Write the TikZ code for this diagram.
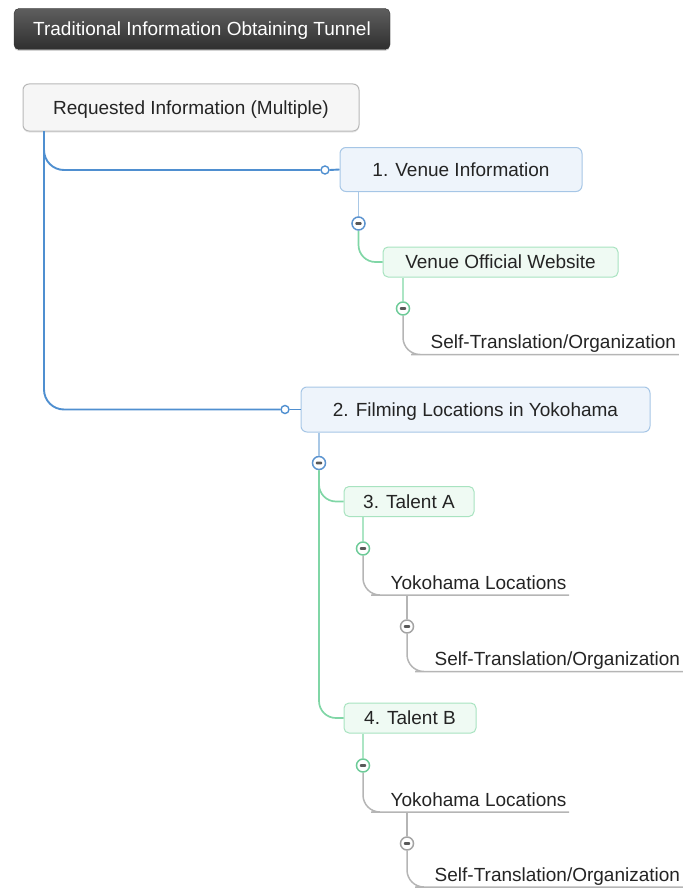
\documentclass[tikz,border=0pt]{standalone}
\usepackage{fontspec}
\setmainfont{Liberation Sans}
\usetikzlibrary{shadows}

\definecolor{txt}{HTML}{242424}
\definecolor{titletop}{HTML}{5E5E5E}
\definecolor{titlebot}{HTML}{2F2F2F}
\definecolor{rootfill}{HTML}{F6F6F6}
\definecolor{rootdraw}{HTML}{B8B8B8}
\definecolor{bluefill}{HTML}{EEF4FB}
\definecolor{bluedraw}{HTML}{A6C6E6}
\definecolor{bluetrunk}{HTML}{4F8FD0}
\definecolor{bluestem}{HTML}{A9C8E6}
\definecolor{bluering}{HTML}{5B93CF}
\definecolor{greenfill}{HTML}{EFFAF3}
\definecolor{greendraw}{HTML}{A8E3C0}
\definecolor{greenline}{HTML}{80D6A6}
\definecolor{greenstem}{HTML}{ACE5C4}
\definecolor{greenring}{HTML}{6DCB98}
\definecolor{grayline}{HTML}{B5B5B5}
\definecolor{grayring}{HTML}{A3A3A3}

\tikzset{
  lbl/.style={font=\fontsize{19}{22}\selectfont, text=txt},
  capcentred/.style={text height=13.6pt, text depth=0pt},
  titlebox/.style={capcentred, rounded corners=5pt, top color=titletop, bottom color=titlebot,
    draw=titlebot, text=white, font=\fontsize{19}{22}\selectfont,
    minimum width=376pt, minimum height=41pt,
    drop shadow={opacity=0.35, shadow xshift=0pt, shadow yshift=-1.5pt}},
  rootbox/.style={lbl, capcentred, rounded corners=6pt, fill=rootfill, draw=rootdraw, line width=1pt,
    minimum width=336pt, minimum height=47pt,
    drop shadow={opacity=0.18, shadow xshift=0pt, shadow yshift=-1.5pt}},
  bluebox/.style={lbl, capcentred, rounded corners=6pt, fill=bluefill, draw=bluedraw, line width=1pt},
  greenbox/.style={lbl, capcentred, rounded corners=5pt, fill=greenfill, draw=greendraw, line width=1pt,
    minimum height=30pt},
  leaf/.style={lbl, anchor=south west, inner xsep=2.5pt, inner ysep=0pt, text depth=5.5pt},
  trunk/.style={draw=bluetrunk, line width=1.9pt, rounded corners=20pt},
  bluestemline/.style={draw=bluestem, line width=1.5pt},
  greenconn/.style={draw=greenline, line width=1.7pt, rounded corners=17pt},
  greenstemline/.style={draw=greenstem, line width=1.5pt},
  grayconn/.style={draw=grayline, line width=1.5pt, rounded corners=17pt},
  endring/.style={circle, draw=bluetrunk, line width=1.4pt, fill=white,
    minimum size=8pt, inner sep=0pt},
  toggle/.style={circle, line width=1.5pt, fill=white, minimum size=13pt, inner sep=0pt,
    path picture={\fill[black!65, rounded corners=0.8pt]
      ([xshift=-3.2pt,yshift=-1.3pt]path picture bounding box.center) rectangle
      ([xshift=3.2pt,yshift=1.3pt]path picture bounding box.center);}},
  togblue/.style={toggle, draw=bluering},
  toggreen/.style={toggle, draw=greenring},
  toggray/.style={toggle, draw=grayring},
}

\begin{document}
\begin{tikzpicture}[x=1pt, y=-1pt]
\useasboundingbox (0,0) rectangle (683,888);

% title and central topic
\node[titlebox] (title) at (202,29) {Traditional Information Obtaining Tunnel};
\node[rootbox] (root) at (191,107.5) {Requested Information (Multiple)};

% main topics
\node[bluebox, minimum width=242pt, minimum height=44pt] (venue) at (461,169.5) {1. Venue Information};
\node[bluebox, minimum width=349pt, minimum height=45pt] (film) at (475.5,409.5) {2. Filming Locations in Yokohama};

% subtopics
\node[greenbox, minimum width=235pt] (site) at (500.5,262) {Venue Official Website};
\node[greenbox, minimum width=130pt] (talA) at (409,501.5) {3. Talent A};
\node[greenbox, minimum width=132pt] (talB) at (410,718) {4. Talent B};

% underlined leaf topics
\node[leaf] (self1) at (428,354.5) {Self-Translation/Organization};
\node[leaf] (yokoA) at (388,595) {Yokohama Locations};
\node[leaf] (self2) at (432,671.5) {Self-Translation/Organization};
\node[leaf] (yokoB) at (388,812) {Yokohama Locations};
\node[leaf] (self3) at (432,887) {Self-Translation/Organization};

% connector ends and collapse toggles
\node[endring] (e1) at (325,170) {};
\node[endring] (e2) at (285,409.5) {};
\node[togblue] (t1) at (358.5,223.5) {};
\node[togblue] (t2) at (319,463) {};
\node[toggreen] (t3) at (403,308.5) {};
\node[toggreen] (t4) at (363,548.5) {};
\node[toggreen] (t5) at (363,765.5) {};
\node[toggray] (t6) at (407,626.5) {};
\node[toggray] (t7) at (407,843.5) {};

\coordinate (rootout) at (44,131);

% central topic to main topics
\draw[trunk] (rootout) |- (e1.west);
\draw[trunk] (rootout) |- (e2.west);
\draw[draw=bluetrunk, line width=1.9pt] (e1.east) -- (venue.west);
\draw[draw=bluetrunk, line width=1.9pt] (e2.east) -- (film.west);

% 1. Venue Information branch
\draw[bluestemline] (venue.south -| t1) -- (t1.north);
\draw[greenconn] (t1.south) |- (site.west);
\draw[greenstemline] (site.south -| t3) -- (t3.north);
\draw[grayconn] (t3.south) |- (self1.south west) -- (self1.south east);

% 2. Filming Locations branch
\draw[bluestemline] (film.south -| t2) -- (t2.north);
\draw[greenconn] (t2.south) |- (talA.west);
\draw[greenconn] (t2.south) |- (talB.west);

% Talent A
\draw[greenstemline] (talA.south -| t4) -- (t4.north);
\draw[grayconn] (t4.south) |- (yokoA.south west) -- (yokoA.south east);
\draw[draw=grayline, line width=1.5pt] (yokoA.south -| t6) -- (t6.north);
\draw[grayconn] (t6.south) |- (self2.south west) -- (self2.south east);

% Talent B
\draw[greenstemline] (talB.south -| t5) -- (t5.north);
\draw[grayconn] (t5.south) |- (yokoB.south west) -- (yokoB.south east);
\draw[draw=grayline, line width=1.5pt] (yokoB.south -| t7) -- (t7.north);
\draw[grayconn] (t7.south) |- (self3.south west) -- (self3.south east);
\end{tikzpicture}
\end{document}
